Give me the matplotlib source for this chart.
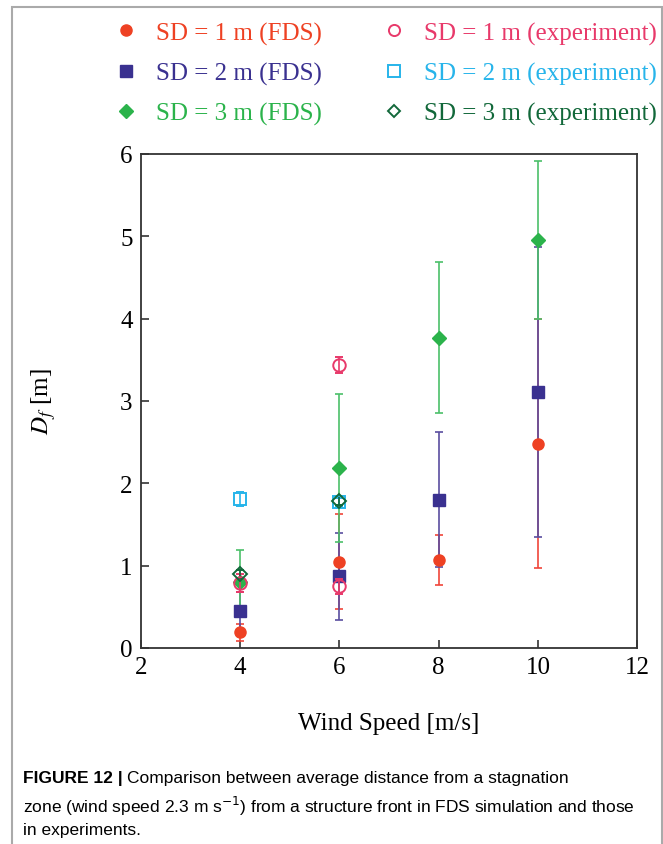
import matplotlib
matplotlib.use("Agg")
import matplotlib.pyplot as plt
from matplotlib.lines import Line2D
from matplotlib.patches import Rectangle

# wind speeds [m/s]
wind_fds = [4, 6, 8, 10]
sd1_fds = [0.19, 1.05, 1.07, 2.48]
sd1_fds_err = [0.10, 0.58, 0.30, 1.51]
sd2_fds = [0.45, 0.87, 1.80, 3.11]
sd2_fds_err = [0.23, 0.53, 0.82, 1.76]
sd3_fds = [0.80, 2.19, 3.77, 4.96]
sd3_fds_err = [0.39, 0.90, 0.92, 0.96]

wind_sd1_exp = [4, 6, 6]
sd1_exp = [0.79, 3.44, 0.75]
sd1_exp_err = [0.11, 0.10, 0.09]
wind_sd2_exp = [4, 6]
sd2_exp = [1.81, 1.77]
sd2_exp_err = [0.09, 0.05]
wind_sd3_exp = [4, 6]
sd3_exp = [0.90, 1.79]
sd3_exp_err = [0.05, 0.05]

labels = ["SD = 1 m (FDS)", "SD = 2 m (FDS)", "SD = 3 m (FDS)",
          "SD = 1 m (experiment)", "SD = 2 m (experiment)", "SD = 3 m (experiment)"]

c_red = "#ee4123"
c_pink = "#e8396a"
c_navy = "#3a3190"
c_cyan = "#27b4ea"
c_green = "#2bb34b"
c_dgreen = "#12683a"

serif = "Liberation Serif"

fig = plt.figure(figsize=(6.63, 8.45), dpi=100)
ax = fig.add_axes([0.2127, 0.232, 0.7483, 0.5846])

kw = dict(linestyle="none", capsize=3, elinewidth=1.2, capthick=1.2)
# FDS series: error lines stacked red < blue < green, markers above the lines
for x, y, e, m, ms, c, ec, z in [
        (wind_fds, sd1_fds, sd1_fds_err, "o", 8, c_red, "#f0453a", 2.0),
        (wind_fds, sd2_fds, sd2_fds_err, "s", 8, c_navy, "#5a4ea0", 2.1),
        (wind_fds, sd3_fds, sd3_fds_err, "D", 7, c_green, "#4cc06a", 2.2)]:
    line, caps, bars = ax.errorbar(x, y, yerr=e, marker=m, ms=ms, color=c, ecolor=ec, zorder=z, **kw)
    line.set_zorder(3)

# experiments on top
for x, y, e, m, ms, c in [
        (wind_sd1_exp, sd1_exp, sd1_exp_err, "o", 9, c_pink),
        (wind_sd2_exp, sd2_exp, sd2_exp_err, "s", 9, c_cyan),
        (wind_sd3_exp, sd3_exp, sd3_exp_err, "D", 7, c_dgreen)]:
    line, caps, bars = ax.errorbar(x, y, yerr=e, marker=m, ms=ms, mfc="none", mew=1.4, color=c,
                                   zorder=3.5, **kw)
    line.set_zorder(4)

ax.set_xlim(2, 12)
ax.set_ylim(0, 6)
ax.set_xticks([2, 4, 6, 8, 10, 12])
ax.set_yticks([0, 1, 2, 3, 4, 5, 6])
ax.tick_params(direction="in", length=6, width=1.2, labelsize=18, color="#333333", pad=6)
for lab in ax.get_xticklabels() + ax.get_yticklabels():
    lab.set_family(serif)
for s in ax.spines.values():
    s.set_color("#333333")
    s.set_linewidth(1.3)

ax.set_xlabel("Wind Speed [m/s]", family=serif, fontsize=18, labelpad=24)
ax.set_ylabel("$D_f$ [m]", family=serif, fontsize=18, math_fontfamily="stix", labelpad=45)

handles = [
    Line2D([], [], ls="none", marker="o", ms=8, color=c_red),
    Line2D([], [], ls="none", marker="s", ms=8, color=c_navy),
    Line2D([], [], ls="none", marker="D", ms=7, color=c_green),
    Line2D([], [], ls="none", marker="o", ms=8, mfc="none", mew=1.4, color=c_pink),
    Line2D([], [], ls="none", marker="s", ms=8, mfc="none", mew=1.4, color=c_cyan),
    Line2D([], [], ls="none", marker="D", ms=6, mfc="none", mew=1.4, color=c_dgreen),
]
fig.legend(handles, labels, ncol=2, loc="upper left", bbox_to_anchor=(0.138, 1.0),
           frameon=False, prop={"family": serif, "size": 18},
           labelcolor=[c_red, c_navy, c_green, c_pink, c_cyan, c_dgreen],
           handlelength=1.0, handletextpad=0.7, labelspacing=0.69, columnspacing=2.35)

# caption
cap_y = [1 - 779 / 845, 1 - 806 / 845, 1 - 831 / 845]
t = fig.text(23 / 663, cap_y[0], "FIGURE 12 |", family="Liberation Sans", fontweight="bold",
             fontsize=12.5, va="center")
fig.canvas.draw()
bb = t.get_window_extent()
fig.text(bb.x1 / fig.bbox.width + 0.006, cap_y[0],
         "Comparison between average distance from a stagnation",
         family="Liberation Sans", fontsize=12.5, va="center")
fig.text(23 / 663, cap_y[1],
         "zone (wind speed 2.3 m s$^{-1}$) from a structure front in FDS simulation and those",
         family="Liberation Sans", fontsize=12.5, va="center", math_fontfamily="dejavusans")
fig.text(23 / 663, cap_y[2], "in experiments.", family="Liberation Sans", fontsize=12.5, va="center")

# panel border
fig.patches.append(Rectangle((12 / 663, -0.05), 650 / 663, 1.05 - 8 / 845, transform=fig.transFigure,
                             fill=False, edgecolor="#aaaaaa", linewidth=1.5))

fig.savefig("out.png", dpi=100)
